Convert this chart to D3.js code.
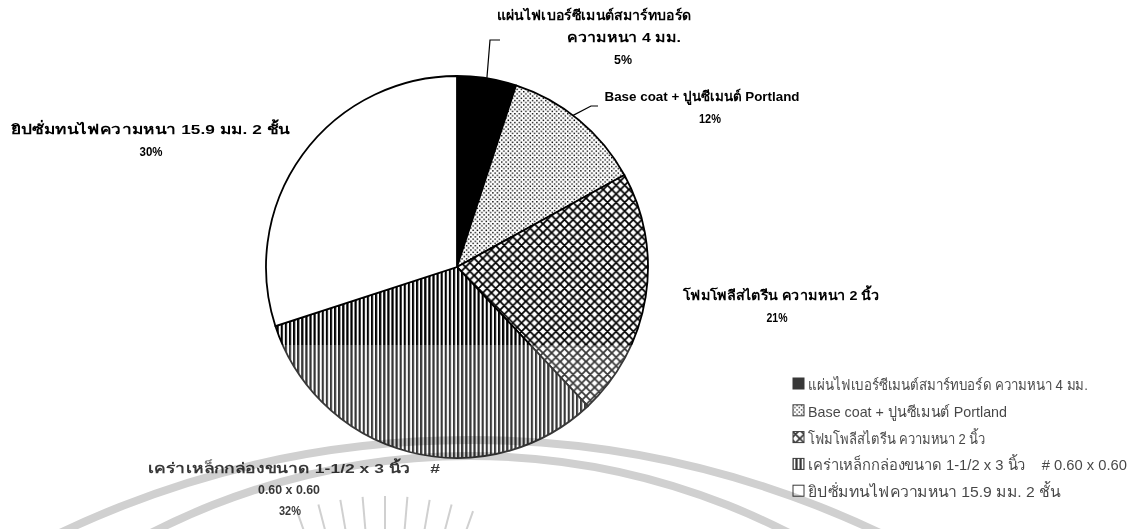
<!DOCTYPE html>
<html>
<head>
<meta charset="utf-8">
<script src="https://cdn.jsdelivr.net/npm/d3@7"></script>
<style>
  html, body { margin: 0; padding: 0; background: #fff; }
  svg { display: block; }
  text { white-space: pre; }
  .lbl { font-family: "Liberation Sans", Arial, sans-serif; font-weight: bold; font-size: 13.5px; fill: #000; }
  .leg { font-family: "Liberation Sans", Arial, sans-serif; font-size: 15px; fill: #111; }
</style>
</head>
<body>
<svg id="chart" width="1140" height="529"></svg>
<script>
// Cost share of wall materials (percent), clockwise from 12 o'clock
const categories = [
  "แผ่นไฟเบอร์ซีเมนต์สมาร์ทบอร์ด ความหนา 4 มม.",
  "Base coat + ปูนซีเมนต์ Portland",
  "โฟมโพลีสไตรีน ความหนา 2 นิ้ว",
  "เคร่าเหล็กกล่องขนาด 1-1/2 x 3 นิ้ว    # 0.60 x 0.60",
  "ยิปซั่มทนไฟความหนา 15.9 มม. 2 ชั้น"
];
const values = [5, 12, 21, 32, 30];
const percentLabels = ["5%", "12%", "21%", "32%", "30%"];
// Wrapped data-label lines (without the percentage)
const labelLines = [
  ["แผ่นไฟเบอร์ซีเมนต์สมาร์ทบอร์ด", "ความหนา 4 มม."],
  ["Base coat + ปูนซีเมนต์ Portland"],
  ["โฟมโพลีสไตรีน ความหนา 2 นิ้ว"],
  ["เคร่าเหล็กกล่องขนาด 1-1/2 x 3 นิ้ว    #", "0.60 x 0.60"],
  ["ยิปซั่มทนไฟความหนา 15.9 มม. 2 ชั้น"]
];

const svg = d3.select("#chart");
const cx = 457, cy = 267, R = 191;

// ---- fill patterns ----
const defs = svg.append("defs");
const pDots = defs.append("pattern").attr("id", "p-dots").attr("patternUnits", "userSpaceOnUse")
  .attr("width", 4.4).attr("height", 4.4);
pDots.append("rect").attr("width", 4.4).attr("height", 4.4).attr("fill", "#fff");
pDots.append("rect").attr("x", 0).attr("y", 0).attr("width", 1.4).attr("height", 1.4).attr("fill", "#000");
pDots.append("rect").attr("x", 2.2).attr("y", 2.2).attr("width", 1.4).attr("height", 1.4).attr("fill", "#000");

const cs = 8.6;
const pCross = defs.append("pattern").attr("id", "p-cross").attr("patternUnits", "userSpaceOnUse")
  .attr("width", cs).attr("height", cs);
pCross.append("rect").attr("width", cs).attr("height", cs).attr("fill", "#fff");
pCross.append("path")
  .attr("d", `M0,0L${cs},${cs}M${cs},0L0,${cs}M-1,${cs-1}L1,${cs+1}M${cs-1},-1L${cs+1},1M-1,1L1,-1M${cs-1},${cs+1}L${cs+1},${cs-1}`)
  .attr("stroke", "#000").attr("stroke-width", 1.8);

const pVert = defs.append("pattern").attr("id", "p-vert").attr("patternUnits", "userSpaceOnUse")
  .attr("width", 4.1).attr("height", 10);
pVert.append("rect").attr("width", 4.1).attr("height", 10).attr("fill", "#fff");
pVert.append("rect").attr("x", 0).attr("width", 2.2).attr("height", 10).attr("fill", "#000");

const fills = ["#000", "url(#p-dots)", "url(#p-cross)", "url(#p-vert)", "#fff"];

// ---- pie ----
const pie = d3.pie().sort(null).value(d => d);
const arcs = pie(values);
const arc = d3.arc().innerRadius(0).outerRadius(R);

const g = svg.append("g").attr("transform", `translate(${cx},${cy})`);
g.selectAll("path.slice").data(arcs).join("path")
  .attr("class", "slice")
  .attr("d", arc)
  .attr("fill", (d, i) => fills[i])
  .attr("stroke", "#000")
  .attr("stroke-width", 1.8)
  .attr("stroke-linejoin", "round");

// ---- leader lines for the two small slices ----
const edge = (i, frac) => {
  const a = arcs[i].startAngle + (arcs[i].endAngle - arcs[i].startAngle) * frac;
  return [cx + R * Math.sin(a), cy - R * Math.cos(a)];
};
const leaders = [
  { i: 0, frac: 0.5, pts: [[500, 40], [490, 40]] },
  { i: 1, frac: 0.45, pts: [[598, 106], [591, 106]] }
];
leaders.forEach(L => {
  const e = edge(L.i, L.frac);
  svg.append("path")
    .attr("d", d3.line()([...L.pts, e]))
    .attr("fill", "none").attr("stroke", "#000").attr("stroke-width", 1.2);
});

// ---- data labels: per-line centre, baseline and drawn width ----
const labelLayout = [
  [{ x: 594, y: 20, w: 195 }, { x: 624, y: 42, w: 114 }, { x: 623, y: 64, w: 18 }],
  [{ x: 702, y: 101, w: 195 }, { x: 710, y: 123, w: 22 }],
  [{ x: 781, y: 300, w: 197 }, { x: 777, y: 322, w: 21 }],
  [{ x: 294, y: 473, w: 292 }, { x: 289, y: 494, w: 62 }, { x: 290, y: 515, w: 22 }],
  [{ x: 150, y: 134, w: 279 }, { x: 151, y: 156, w: 23 }]
];
labelLayout.forEach((lay, i) => {
  const lines = [...labelLines[i], percentLabels[i]];
  lines.forEach((s, k) => {
    svg.append("text").attr("class", "lbl").attr("text-anchor", "middle")
      .attr("x", lay[k].x).attr("y", lay[k].y)
      .attr("textLength", lay[k].w).attr("lengthAdjust", "spacingAndGlyphs")
      .text(s);
  });
});

// ---- legend ----
const legX = 793, legY0 = 384, legStep = 26.8;
const legWidths = [280, 199, 177, 319, 252];
const leg = svg.append("g");
categories.forEach((c, i) => {
  const y = legY0 + i * legStep;
  leg.append("rect").attr("x", legX).attr("y", y - 6).attr("width", 11).attr("height", 11)
    .attr("fill", fills[i]).attr("stroke", "#000").attr("stroke-width", 1);
  leg.append("text").attr("class", "leg").attr("x", legX + 15).attr("y", y + 6)
    .attr("textLength", legWidths[i]).attr("lengthAdjust", "spacingAndGlyphs")
    .text(c);
});

// ---- faint watermark across the lower band ----
svg.append("rect").attr("x", 0).attr("y", 345).attr("width", 1140).attr("height", 184)
  .attr("fill", "#fff").attr("opacity", 0.22);
const wm = svg.append("g").attr("fill", "none").attr("stroke", "#d0d0d0").attr("stroke-width", 8)
  .style("mix-blend-mode", "multiply");
wm.append("circle").attr("cx", 470).attr("cy", 1390).attr("r", 950);
wm.append("circle").attr("cx", 470).attr("cy", 1155).attr("r", 699);
// thin rays of the emblem
const rays = wm.append("g").attr("stroke-width", 2);
d3.range(-4, 5).forEach(k => {
  const a = k * 0.085;
  const ox = 385, oy = 760;
  rays.append("line")
    .attr("x1", ox + 230 * Math.sin(a)).attr("y1", oy - 230 * Math.cos(a))
    .attr("x2", ox + 264 * Math.sin(a)).attr("y2", oy - 264 * Math.cos(a));
});
</script>
</body>
</html>
